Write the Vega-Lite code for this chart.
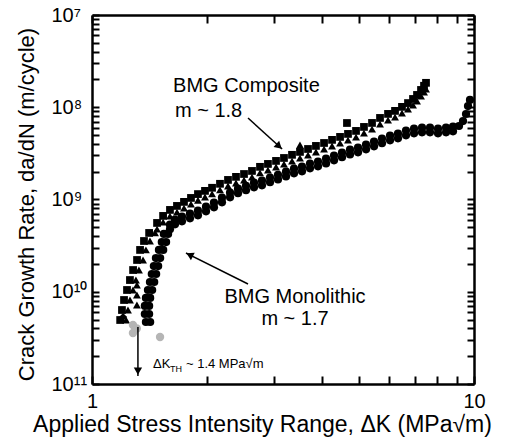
{
  "$schema": "https://vega.github.io/schema/vega-lite/v6.json",
  "width": 382,
  "height": 369,
  "autosize": "none",
  "padding": {"left": 92, "top": 15, "right": 38, "bottom": 58},
  "background": "white",
  "config": {
    "view": {"stroke": null},
    "font": "Liberation Sans",
    "axis": {
      "grid": false,
      "ticks": true,
      "tickOpacity": 1,
      "domainColor": "black",
      "domainWidth": 2.5,
      "labelColor": "black",
      "labelFont": "Liberation Sans",
      "labelFontSize": 20,
      "labelOverlap": false,
      "labelFlush": false,
      "titleColor": "black",
      "titleFont": "Liberation Sans",
      "titleFontSize": 22,
      "titleFontWeight": "normal"
    }
  },
  "datasets": {
    "pts": [
      {"s": "CA", "K": 1.185, "r": 4.94e-11}, {"s": "CB", "K": 1.228, "r": 4.94e-11},
      {"s": "CA", "K": 1.198, "r": 6.34e-11}, {"s": "CB", "K": 1.242, "r": 6.34e-11},
      {"s": "CA", "K": 1.213, "r": 8.14e-11}, {"s": "CB", "K": 1.257, "r": 8.14e-11},
      {"s": "CA", "K": 1.235, "r": 1.045e-10}, {"s": "CB", "K": 1.28, "r": 1.045e-10},
      {"s": "CA", "K": 1.257, "r": 1.34e-10}, {"s": "CB", "K": 1.303, "r": 1.34e-10},
      {"s": "CA", "K": 1.281, "r": 1.72e-10}, {"s": "CB", "K": 1.327, "r": 1.72e-10},
      {"s": "CA", "K": 1.312, "r": 2.21e-10}, {"s": "CB", "K": 1.36, "r": 2.21e-10},
      {"s": "CA", "K": 1.336, "r": 2.84e-10}, {"s": "CB", "K": 1.384, "r": 2.84e-10},
      {"s": "CA", "K": 1.368, "r": 3.55e-10}, {"s": "CB", "K": 1.418, "r": 3.55e-10},
      {"s": "CA", "K": 1.411, "r": 4.34e-10}, {"s": "CB", "K": 1.462, "r": 4.34e-10},
      {"s": "CA", "K": 1.48, "r": 5.57e-10}, {"s": "CB", "K": 1.48, "r": 4.78e-10},
      {"s": "CA", "K": 1.535, "r": 6.64e-10}, {"s": "CB", "K": 1.535, "r": 5.69e-10},
      {"s": "CA", "K": 1.6, "r": 7.71e-10}, {"s": "CB", "K": 1.6, "r": 6.61e-10},
      {"s": "CA", "K": 1.669, "r": 8.52e-10}, {"s": "CB", "K": 1.669, "r": 7.31e-10},
      {"s": "CA", "K": 1.741, "r": 9.42e-10}, {"s": "CB", "K": 1.741, "r": 8.07e-10},
      {"s": "CA", "K": 1.816, "r": 1.04e-9}, {"s": "CB", "K": 1.816, "r": 8.92e-10},
      {"s": "CA", "K": 1.894, "r": 1.145e-9}, {"s": "CB", "K": 1.894, "r": 9.81e-10},
      {"s": "CA", "K": 1.976, "r": 1.24e-9}, {"s": "CB", "K": 1.976, "r": 1.065e-9},
      {"s": "CA", "K": 2.062, "r": 1.34e-9}, {"s": "CB", "K": 2.062, "r": 1.15e-9},
      {"s": "CA", "K": 2.163, "r": 1.48e-9}, {"s": "CB", "K": 2.163, "r": 1.27e-9},
      {"s": "CA", "K": 2.27, "r": 1.63e-9}, {"s": "CB", "K": 2.27, "r": 1.4e-9},
      {"s": "CA", "K": 2.382, "r": 1.76e-9}, {"s": "CB", "K": 2.382, "r": 1.51e-9},
      {"s": "CA", "K": 2.5, "r": 1.89e-9}, {"s": "CB", "K": 2.5, "r": 1.62e-9},
      {"s": "CA", "K": 2.623, "r": 2.04e-9}, {"s": "CB", "K": 2.623, "r": 1.75e-9},
      {"s": "CA", "K": 2.753, "r": 2.26e-9}, {"s": "CB", "K": 2.753, "r": 1.94e-9},
      {"s": "CA", "K": 2.888, "r": 2.43e-9}, {"s": "CB", "K": 2.888, "r": 2.08e-9},
      {"s": "CA", "K": 3.032, "r": 2.62e-9}, {"s": "CB", "K": 3.032, "r": 2.25e-9},
      {"s": "CA", "K": 3.181, "r": 2.82e-9}, {"s": "CB", "K": 3.181, "r": 2.42e-9},
      {"s": "CA", "K": 3.339, "r": 3.05e-9}, {"s": "CB", "K": 3.339, "r": 2.61e-9},
      {"s": "CA", "K": 3.503, "r": 3.28e-9}, {"s": "CB", "K": 3.503, "r": 2.81e-9},
      {"s": "CA", "K": 3.677, "r": 3.53e-9}, {"s": "CB", "K": 3.677, "r": 3.03e-9},
      {"s": "CA", "K": 3.857, "r": 3.81e-9}, {"s": "CB", "K": 3.857, "r": 3.27e-9},
      {"s": "CA", "K": 4.05, "r": 4.1e-9}, {"s": "CB", "K": 4.05, "r": 3.52e-9},
      {"s": "CA", "K": 4.25, "r": 4.43e-9}, {"s": "CB", "K": 4.25, "r": 3.8e-9},
      {"s": "CA", "K": 4.46, "r": 4.77e-9}, {"s": "CB", "K": 4.46, "r": 4.09e-9},
      {"s": "CA", "K": 4.679, "r": 5.14e-9}, {"s": "CB", "K": 4.679, "r": 4.41e-9},
      {"s": "CA", "K": 4.911, "r": 5.54e-9}, {"s": "CB", "K": 4.911, "r": 4.75e-9},
      {"s": "CA", "K": 5.152, "r": 6.12e-9}, {"s": "CB", "K": 5.152, "r": 5.25e-9},
      {"s": "CA", "K": 5.408, "r": 6.76e-9}, {"s": "CB", "K": 5.408, "r": 5.8e-9},
      {"s": "CA", "K": 5.675, "r": 7.66e-9}, {"s": "CB", "K": 5.675, "r": 6.56e-9},
      {"s": "CA", "K": 5.956, "r": 8.47e-9}, {"s": "CB", "K": 5.956, "r": 7.26e-9},
      {"s": "CA", "K": 6.212, "r": 9.13e-9}, {"s": "CB", "K": 6.212, "r": 7.82e-9},
      {"s": "CA", "K": 6.479, "r": 1.01e-8}, {"s": "CB", "K": 6.479, "r": 8.65e-9},
      {"s": "CA", "K": 6.718, "r": 1.11e-8}, {"s": "CB", "K": 6.718, "r": 9.54e-9},
      {"s": "CA", "K": 6.924, "r": 1.23e-8}, {"s": "CB", "K": 6.924, "r": 1.056e-8},
      {"s": "CA", "K": 7.093, "r": 1.36e-8}, {"s": "CB", "K": 7.093, "r": 1.167e-8},
      {"s": "CA", "K": 7.266, "r": 1.54e-8}, {"s": "CB", "K": 7.266, "r": 1.32e-8},
      {"s": "CA", "K": 7.399, "r": 1.71e-8}, {"s": "CB", "K": 7.399, "r": 1.46e-8},
      {"s": "CA", "K": 7.488, "r": 1.84e-8}, {"s": "CB", "K": 7.488, "r": 1.57e-8},
      {"s": "CB", "K": 1.311, "r": 1.18e-10}, {"s": "CB", "K": 1.311, "r": 9.22e-11},
      {"s": "CB", "K": 1.311, "r": 7.18e-11}, {"s": "CX", "K": 1.206, "r": 5.32e-11},
      {"s": "CA", "K": 4.65, "r": 6.75e-9}, {"s": "CB", "K": 3.503, "r": 3.9e-9},
      {"s": "F", "K": 1.28, "r": 4.36e-11}, {"s": "F", "K": 1.28, "r": 3.57e-11},
      {"s": "F", "K": 1.507, "r": 3.23e-11}, {"s": "F", "K": 1.31, "r": 4.0e-11},
      {"s": "M", "K": 1.384, "r": 4.7e-11}, {"s": "M", "K": 1.42, "r": 4.7e-11},
      {"s": "M", "K": 1.375, "r": 5.74e-11}, {"s": "M", "K": 1.411, "r": 5.74e-11},
      {"s": "M", "K": 1.375, "r": 7.01e-11}, {"s": "M", "K": 1.411, "r": 7.01e-11},
      {"s": "M", "K": 1.384, "r": 8.56e-11}, {"s": "M", "K": 1.42, "r": 8.56e-11},
      {"s": "M", "K": 1.401, "r": 1.045e-10}, {"s": "M", "K": 1.437, "r": 1.045e-10},
      {"s": "M", "K": 1.418, "r": 1.276e-10}, {"s": "M", "K": 1.455, "r": 1.276e-10},
      {"s": "M", "K": 1.434, "r": 1.557e-10}, {"s": "M", "K": 1.472, "r": 1.557e-10},
      {"s": "M", "K": 1.452, "r": 1.9e-10}, {"s": "M", "K": 1.49, "r": 1.9e-10},
      {"s": "M", "K": 1.47, "r": 2.32e-10}, {"s": "M", "K": 1.508, "r": 2.32e-10},
      {"s": "M", "K": 1.497, "r": 2.84e-10}, {"s": "M", "K": 1.536, "r": 2.84e-10},
      {"s": "M", "K": 1.523, "r": 3.46e-10}, {"s": "M", "K": 1.563, "r": 3.46e-10},
      {"s": "M", "K": 1.542, "r": 4.23e-10}, {"s": "M", "K": 1.582, "r": 4.23e-10},
      {"s": "M", "K": 1.6, "r": 5.33e-10}, {"s": "M", "K": 1.6, "r": 4.75e-10},
      {"s": "M", "K": 1.649, "r": 6.04e-10}, {"s": "M", "K": 1.649, "r": 5.38e-10},
      {"s": "M", "K": 1.72, "r": 6.52e-10}, {"s": "M", "K": 1.72, "r": 5.8e-10},
      {"s": "M", "K": 1.805, "r": 7.02e-10}, {"s": "M", "K": 1.805, "r": 6.25e-10},
      {"s": "M", "K": 1.894, "r": 7.57e-10}, {"s": "M", "K": 1.894, "r": 6.74e-10},
      {"s": "M", "K": 1.988, "r": 8.36e-10}, {"s": "M", "K": 1.988, "r": 7.44e-10},
      {"s": "M", "K": 2.086, "r": 9.24e-10}, {"s": "M", "K": 2.086, "r": 8.23e-10},
      {"s": "M", "K": 2.189, "r": 1.047e-9}, {"s": "M", "K": 2.189, "r": 9.32e-10},
      {"s": "M", "K": 2.298, "r": 1.186e-9}, {"s": "M", "K": 2.298, "r": 1.056e-9},
      {"s": "M", "K": 2.411, "r": 1.31e-9}, {"s": "M", "K": 2.411, "r": 1.17e-9},
      {"s": "M", "K": 2.53, "r": 1.41e-9}, {"s": "M", "K": 2.53, "r": 1.26e-9},
      {"s": "M", "K": 2.655, "r": 1.52e-9}, {"s": "M", "K": 2.655, "r": 1.355e-9},
      {"s": "M", "K": 2.786, "r": 1.6e-9}, {"s": "M", "K": 2.786, "r": 1.425e-9},
      {"s": "M", "K": 2.924, "r": 1.73e-9}, {"s": "M", "K": 2.924, "r": 1.54e-9},
      {"s": "M", "K": 3.068, "r": 1.855e-9}, {"s": "M", "K": 3.068, "r": 1.65e-9},
      {"s": "M", "K": 3.22, "r": 2.0e-9}, {"s": "M", "K": 3.22, "r": 1.78e-9},
      {"s": "M", "K": 3.379, "r": 2.16e-9}, {"s": "M", "K": 3.379, "r": 1.92e-9},
      {"s": "M", "K": 3.546, "r": 2.27e-9}, {"s": "M", "K": 3.546, "r": 2.02e-9},
      {"s": "M", "K": 3.721, "r": 2.45e-9}, {"s": "M", "K": 3.721, "r": 2.18e-9},
      {"s": "M", "K": 3.905, "r": 2.58e-9}, {"s": "M", "K": 3.905, "r": 2.29e-9},
      {"s": "M", "K": 4.099, "r": 2.77e-9}, {"s": "M", "K": 4.099, "r": 2.46e-9},
      {"s": "M", "K": 4.301, "r": 2.99e-9}, {"s": "M", "K": 4.301, "r": 2.66e-9},
      {"s": "M", "K": 4.513, "r": 3.22e-9}, {"s": "M", "K": 4.513, "r": 2.87e-9},
      {"s": "M", "K": 4.736, "r": 3.47e-9}, {"s": "M", "K": 4.736, "r": 3.08e-9},
      {"s": "M", "K": 4.97, "r": 3.65e-9}, {"s": "M", "K": 4.97, "r": 3.25e-9},
      {"s": "M", "K": 5.216, "r": 3.93e-9}, {"s": "M", "K": 5.216, "r": 3.5e-9},
      {"s": "M", "K": 5.474, "r": 4.24e-9}, {"s": "M", "K": 5.474, "r": 3.77e-9},
      {"s": "M", "K": 5.743, "r": 4.57e-9}, {"s": "M", "K": 5.743, "r": 4.07e-9},
      {"s": "M", "K": 6.028, "r": 4.92e-9}, {"s": "M", "K": 6.028, "r": 4.38e-9},
      {"s": "M", "K": 6.324, "r": 5.17e-9}, {"s": "M", "K": 6.324, "r": 4.6e-9},
      {"s": "M", "K": 6.637, "r": 5.58e-9}, {"s": "M", "K": 6.637, "r": 4.96e-9},
      {"s": "M", "K": 6.966, "r": 5.86e-9}, {"s": "M", "K": 6.966, "r": 5.22e-9},
      {"s": "M", "K": 7.31, "r": 6.01e-9}, {"s": "M", "K": 7.31, "r": 5.35e-9},
      {"s": "M", "K": 7.67, "r": 6.01e-9}, {"s": "M", "K": 7.67, "r": 5.35e-9},
      {"s": "M", "K": 8.05, "r": 5.86e-9}, {"s": "M", "K": 8.05, "r": 5.22e-9},
      {"s": "M", "K": 8.449, "r": 6.01e-9}, {"s": "M", "K": 8.449, "r": 5.35e-9},
      {"s": "M", "K": 8.811, "r": 6.16e-9}, {"s": "M", "K": 8.811, "r": 5.48e-9},
      {"s": "M", "K": 9.135, "r": 6.26e-9},
      {"s": "M", "K": 9.359, "r": 7.09e-9},
      {"s": "M", "K": 9.53, "r": 8.45e-9},
      {"s": "M", "K": 9.645, "r": 1.03e-8},
      {"s": "M", "K": 9.761, "r": 1.2e-8}
    ],
    "arrows": [
      {"K": 2.561, "r": 7.65e-9, "K2": 3.145, "r2": 3.53e-9},
      {"K": 2.561, "r": 1.213e-10, "K2": 1.762, "r2": 2.63e-10},
      {"K": 1.319, "r": 4.15e-11, "K2": 1.319, "r2": 1.22e-11}
    ],
    "heads": [
      {"K": 3.088, "r": 3.77e-9, "a": 132},
      {"K": 1.801, "r": 2.515e-10, "a": 297},
      {"K": 1.319, "r": 1.38e-11, "a": 180}
    ],
    "notes": [
      {"g": "L", "K": 1.63, "r": 1.46e-8, "t": "BMG Composite"},
      {"g": "L", "K": 1.649, "r": 7.84e-9, "t": "m ~ 1.8"},
      {"g": "C", "K": 3.4, "r": 7.55e-11, "t": "BMG Monolithic"},
      {"g": "C", "K": 3.4, "r": 4.36e-11, "t": "m ~ 1.7"},
      {"g": "S", "K": 1.444, "r": 1.49e-11, "t": "ΔK"},
      {"g": "S", "K": 1.762, "r": 1.49e-11, "t": "~ 1.4 MPa√m"},
      {"g": "U", "K": 1.6, "r": 1.36e-11, "t": "TH"}
    ]
  },
  "layer": [
    {
      "data": {"name": "pts"},
      "mark": {"type": "point", "filled": true, "opacity": 1, "strokeWidth": 0},
      "encoding": {
        "x": {
          "field": "K", "type": "quantitative",
          "scale": {"type": "log", "domain": [1, 10], "nice": false},
          "axis": {
            "orient": "bottom",
            "values": [1, 2, 3, 4, 5, 6, 7, 8, 9, 10],
            "labelExpr": "datum.value == 1 ? '1' : datum.value == 10 ? '10' : ''",
            "ticks": true,
            "tickSize": -8,
            "tickColor": "black",
            "tickWidth": 2,
            "labelPadding": 15,
            "title": "Applied Stress Intensity Range, ΔK (MPa√m)",
            "titleFontSize": 23,
            "titleX": 170,
            "titleY": 47,
            "titleAlign": "center",
            "titleBaseline": "alphabetic"
          }
        },
        "y": {
          "field": "r", "type": "quantitative",
          "scale": {"type": "log", "domain": [1e-11, 1e-7], "nice": false},
          "axis": {
            "orient": "left",
            "values": [1e-11, 2e-11, 3e-11, 4e-11, 5e-11, 6e-11, 7e-11, 8e-11, 9e-11, 1e-10, 2e-10, 3e-10, 4e-10, 5e-10, 6e-10, 7e-10, 8e-10, 9e-10, 1e-9, 2e-9, 3e-9, 4e-9, 5e-9, 6e-9, 7e-9, 8e-9, 9e-9, 1e-8, 2e-8, 3e-8, 4e-8, 5e-8, 6e-8, 7e-8, 8e-8, 9e-8, 1e-7],
            "labelExpr": "datum.value == 1e-7 ? '10\u2077' : datum.value == 1e-8 ? '10\u2078' : datum.value == 1e-9 ? '10\u2079' : datum.value == 1e-10 ? '10\u00b9\u2070' : datum.value == 1e-11 ? '10\u00b9\u00b9' : ''",
            "ticks": true,
            "tickSize": -7,
            "tickColor": "black",
            "tickWidth": 2,
            "labelAlign": "left",
            "labelPadding": 48,
            "title": "Crack Growth Rate, da/dN (m/cycle)",
            "titleX": -59,
            "titleY": 189,
            "titleAlign": "center",
            "titleBaseline": "alphabetic"
          }
        },
        "shape": {
          "field": "s", "type": "nominal", "legend": null,
          "scale": {"domain": ["CA", "CB", "CX", "M", "F"], "range": ["square", "triangle-up", "diamond", "circle", "circle"]}
        },
        "color": {
          "field": "s", "type": "nominal", "legend": null,
          "scale": {"domain": ["CA", "CB", "CX", "M", "F"], "range": ["#000000", "#000000", "#000000", "#000000", "#b5b5b5"]}
        },
        "size": {
          "field": "s", "type": "ordinal", "legend": null,
          "scale": {"domain": ["CA", "CB", "CX", "M", "F"], "range": [60, 70, 60, 85, 4]}
        }
      }
    },
    {
      "data": {"name": "arrows"},
      "mark": {"type": "rule", "color": "black", "strokeWidth": 1.5},
      "encoding": {
        "x": {
          "field": "K", "type": "quantitative",
          "scale": {"type": "log", "domain": [1, 10], "nice": false},
          "axis": {
            "orient": "top",
            "values": [1, 2, 3, 4, 5, 6, 7, 8, 9, 10],
            "labels": false,
            "title": null,
            "ticks": true,
            "tickSize": -8,
            "tickColor": "black",
            "tickWidth": 2
          }
        },
        "y": {
          "field": "r", "type": "quantitative",
          "scale": {"type": "log", "domain": [1e-11, 1e-7], "nice": false},
          "axis": {
            "orient": "right",
            "values": [1e-11, 2e-11, 3e-11, 4e-11, 5e-11, 6e-11, 7e-11, 8e-11, 9e-11, 1e-10, 2e-10, 3e-10, 4e-10, 5e-10, 6e-10, 7e-10, 8e-10, 9e-10, 1e-9, 2e-9, 3e-9, 4e-9, 5e-9, 6e-9, 7e-9, 8e-9, 9e-9, 1e-8, 2e-8, 3e-8, 4e-8, 5e-8, 6e-8, 7e-8, 8e-8, 9e-8, 1e-7],
            "labels": false,
            "title": null,
            "ticks": true,
            "tickSize": -7,
            "tickColor": "black",
            "tickWidth": 2
          }
        },
        "x2": {"field": "K2"},
        "y2": {"field": "r2"}
      }
    },
    {
      "data": {"name": "heads"},
      "mark": {"type": "point", "shape": "triangle-up", "filled": true, "color": "black", "opacity": 1, "size": 70, "strokeWidth": 0},
      "encoding": {
        "x": {"field": "K", "type": "quantitative", "scale": {"type": "log", "domain": [1, 10], "nice": false}, "axis": null},
        "y": {"field": "r", "type": "quantitative", "scale": {"type": "log", "domain": [1e-11, 1e-7], "nice": false}, "axis": null},
        "angle": {"field": "a", "type": "quantitative", "scale": null}
      }
    },
    {
      "data": {"name": "notes"},
      "transform": [{"filter": "datum.g == 'L'"}],
      "mark": {"type": "text", "align": "left", "baseline": "alphabetic", "fontSize": 20, "font": "Liberation Sans", "color": "black"},
      "encoding": {
        "x": {"field": "K", "type": "quantitative", "scale": {"type": "log", "domain": [1, 10], "nice": false}, "axis": null},
        "y": {"field": "r", "type": "quantitative", "scale": {"type": "log", "domain": [1e-11, 1e-7], "nice": false}, "axis": null},
        "text": {"field": "t"}
      }
    },
    {
      "data": {"name": "notes"},
      "transform": [{"filter": "datum.g == 'C'"}],
      "mark": {"type": "text", "align": "center", "baseline": "alphabetic", "fontSize": 20, "font": "Liberation Sans", "color": "black"},
      "encoding": {
        "x": {"field": "K", "type": "quantitative", "scale": {"type": "log", "domain": [1, 10], "nice": false}, "axis": null},
        "y": {"field": "r", "type": "quantitative", "scale": {"type": "log", "domain": [1e-11, 1e-7], "nice": false}, "axis": null},
        "text": {"field": "t"}
      }
    },
    {
      "data": {"name": "notes"},
      "transform": [{"filter": "datum.g == 'S'"}],
      "mark": {"type": "text", "align": "left", "baseline": "alphabetic", "fontSize": 13, "font": "Liberation Sans", "color": "black"},
      "encoding": {
        "x": {"field": "K", "type": "quantitative", "scale": {"type": "log", "domain": [1, 10], "nice": false}, "axis": null},
        "y": {"field": "r", "type": "quantitative", "scale": {"type": "log", "domain": [1e-11, 1e-7], "nice": false}, "axis": null},
        "text": {"field": "t"}
      }
    },
    {
      "data": {"name": "notes"},
      "transform": [{"filter": "datum.g == 'U'"}],
      "mark": {"type": "text", "align": "left", "baseline": "alphabetic", "fontSize": 9, "font": "Liberation Sans", "color": "black"},
      "encoding": {
        "x": {"field": "K", "type": "quantitative", "scale": {"type": "log", "domain": [1, 10], "nice": false}, "axis": null},
        "y": {"field": "r", "type": "quantitative", "scale": {"type": "log", "domain": [1e-11, 1e-7], "nice": false}, "axis": null},
        "text": {"field": "t"}
      }
    }
  ],
  "resolve": {"axis": {"x": "independent", "y": "independent"}}
}
